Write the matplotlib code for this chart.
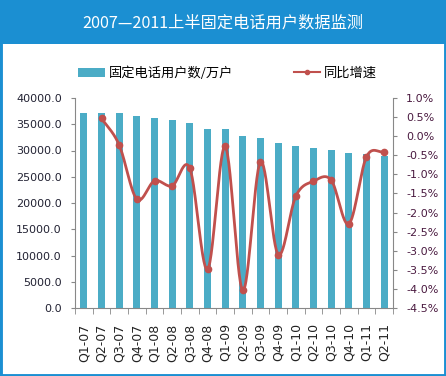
import numpy as np
import matplotlib
matplotlib.use("Agg")
import matplotlib.pyplot as plt
from matplotlib.patches import Rectangle
from matplotlib.lines import Line2D

plt.rcParams['font.family'] = ['Noto Sans CJK SC', 'DejaVu Sans']

categories = ["Q1-07", "Q2-07", "Q3-07", "Q4-07", "Q1-08", "Q2-08", "Q3-08", "Q4-08",
              "Q1-09", "Q2-09", "Q3-09", "Q4-09", "Q1-10", "Q2-10", "Q3-10", "Q4-10",
              "Q1-11", "Q2-11"]
users = [37200, 37200, 37150, 36500, 36250, 35750, 35300, 34100,
         34100, 32760, 32440, 31370, 30860, 30420, 30100, 29470,
         29280, 28950]
# growth rate (%), first quarter has no value
growth = [np.nan, 0.47, -0.23, -1.65, -1.17, -1.30, -0.84, -3.49,
          -0.27, -4.04, -0.67, -3.10, -1.57, -1.18, -1.15, -2.30,
          -0.54, -0.41]
left_ticks = [0, 5000, 10000, 15000, 20000, 25000, 30000, 35000, 40000]
right_ticks = [1.0, 0.5, 0.0, -0.5, -1.0, -1.5, -2.0, -2.5, -3.0, -3.5, -4.0, -4.5]
title = "2007—2011上半固定电话用户数据监测"
bar_label = "固定电话用户数/万户"
line_label = "同比增速"

BAR_C = "#4BACC6"
LINE_C = "#C0504D"
FRAME_C = "#1B8FD2"

W, H = 446, 376
fig = plt.figure(figsize=(W / 100, H / 100), dpi=100)
fig.patch.set_facecolor("white")

# frame & title bar
fig.add_artist(Rectangle((0, 0), 1, 1, transform=fig.transFigure, fill=False,
                         edgecolor=FRAME_C, linewidth=3.5))
fig.add_artist(Rectangle((0, 1 - 44 / H), 1, 44 / H, transform=fig.transFigure,
                         facecolor=FRAME_C, edgecolor="none"))
fig.text(0.5, 1 - 23 / H, title, color="white", fontsize=11.7, ha="center", va="center")

ax = fig.add_axes([75 / W, 1 - 308 / H, (393 - 75) / W, (308 - 98) / H])
x = np.arange(len(categories))
ax.bar(x, users, width=0.38, color=BAR_C, zorder=2)
ax.set_xlim(-0.5, len(categories) - 0.5)
ax.set_ylim(0, 40000)
ax.set_yticks(left_ticks)
ax.set_yticklabels([f"{v:.1f}" for v in left_ticks], fontsize=8, color="#222233",
                   family="DejaVu Sans")
ax.set_xticks(x)
ax.set_xticklabels(categories, rotation=90, fontsize=9, color="#222222",
                   family="DejaVu Sans")
ax.set_xticks(np.arange(-0.5, len(categories)), minor=True)
ax.tick_params(axis="x", which="major", length=0, pad=11)
ax.tick_params(axis="x", which="minor", length=4, color="#888888")
ax.tick_params(axis="y", length=3, color="#888888", pad=6.5)
for s in ["top", "right"]:
    ax.spines[s].set_visible(False)
for s in ["left", "bottom"]:
    ax.spines[s].set_color("#888888")

ax2 = ax.twinx()
ax2.set_ylim(-4.5, 1.0)
ax2.set_yticks(right_ticks)
ax2.set_yticklabels([f"{v:.1f}%" for v in right_ticks], fontsize=8, color="#4A1A40",
                    family="DejaVu Sans")
ax2.tick_params(axis="y", length=3, color="#888888", pad=6.5)
for s in ["top", "left", "bottom"]:
    ax2.spines[s].set_visible(False)
ax2.spines["right"].set_color("#888888")

# smoothed line (Catmull-Rom through the data points)
gx = np.array([i for i, v in enumerate(growth) if not np.isnan(v)], dtype=float)
gy = np.array([v for v in growth if not np.isnan(v)])
px = np.concatenate([[2 * gx[0] - gx[1]], gx, [2 * gx[-1] - gx[-2]]])
py = np.concatenate([[2 * gy[0] - gy[1]], gy, [2 * gy[-1] - gy[-2]]])
sx, sy = [], []
t = np.linspace(0, 1, 30)
for i in range(1, len(px) - 2):
    p0, p1, p2, p3 = py[i - 1], py[i], py[i + 1], py[i + 2]
    yy = 0.5 * ((2 * p1) + (-p0 + p2) * t + (2 * p0 - 5 * p1 + 4 * p2 - p3) * t ** 2
                + (-p0 + 3 * p1 - 3 * p2 + p3) * t ** 3)
    xx = px[i] + (px[i + 1] - px[i]) * t
    sx.extend(xx)
    sy.extend(yy)
ax2.plot(sx, sy, color=LINE_C, linewidth=2, zorder=3)
ax2.plot(gx, gy, "o", color=LINE_C, markersize=4.5, zorder=4)

# legend
leg_handles = [Rectangle((0, 0), 1, 1, facecolor=BAR_C),
               Line2D([0], [0], color=LINE_C, linewidth=1.5, marker="o", markersize=3)]
fig.legend(leg_handles, [bar_label, line_label], loc="center",
           bbox_to_anchor=(227.5 / W, 1 - 73 / H), ncol=2, frameon=False, fontsize=9.5,
           handlelength=2.0, handletextpad=0.3, columnspacing=4.6)

fig.savefig("out.png", dpi=100)
